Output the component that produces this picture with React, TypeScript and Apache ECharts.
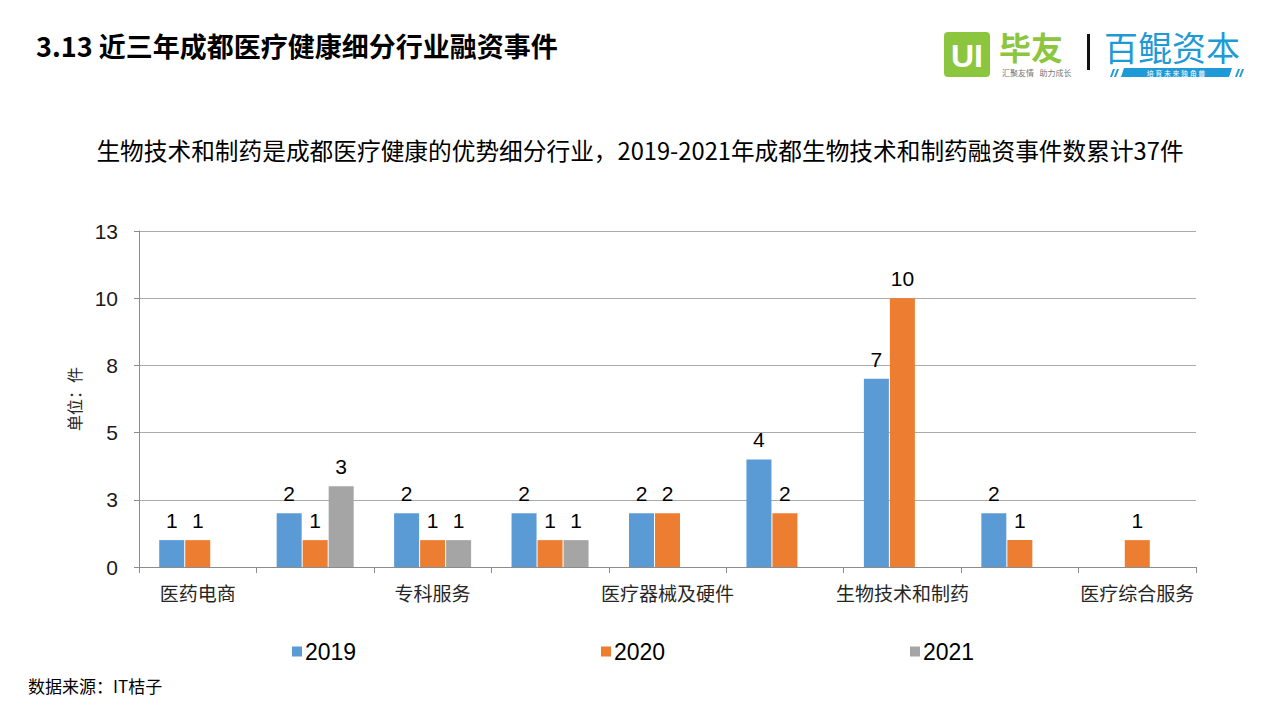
import React, { useEffect, useRef } from "react";
import * as echarts from "echarts";

const categories = [
  "医药电商",
  "医疗信息化",
  "专科服务",
  "数字医疗",
  "医疗器械及硬件",
  "健康管理",
  "生物技术和制药",
  "医疗服务",
  "医疗综合服务",
];
const seriesNames = ["2019", "2020", "2021"];
const values2019 = [1, 2, 2, 2, 2, 4, 7, 2, null];
const values2020 = [1, 1, 1, 1, 2, 2, 10, 1, 1];
const values2021 = [null, 3, 1, 1, null, null, null, null, null];
const colors = ["#5B9BD5", "#ED7D31", "#A5A5A5"];

const title = "3.13 近三年成都医疗健康细分行业融资事件";
const subtitle =
  "生物技术和制药是成都医疗健康的优势细分行业，2019-2021年成都生物技术和制药融资事件数累计37件";
const unitLabel = "单位：件";
const sourceText = "数据来源：IT桔子";

const CJK = '"Noto Sans CJK SC", "Microsoft YaHei", sans-serif';
const ARIAL = '"Liberation Sans", Arial, sans-serif';

export default function App() {
  const ref = useRef<HTMLDivElement>(null);
  useEffect(() => {
    if (!ref.current) return;
    const chart = echarts.init(ref.current, null, { renderer: "svg" });
    const allValues = [values2019, values2020, values2021];
    const legendLefts = [287, 596, 905];
    chart.setOption({
      animation: false,
      backgroundColor: "#ffffff",
      color: colors,
      textStyle: { fontFamily: CJK },
      grid: { left: 139, right: 84, top: 231, bottom: 153, containLabel: false },
      legend: seriesNames.map((n, i) => ({
        data: [n],
        left: legendLefts[i],
        top: 635,
        icon: "rect",
        itemWidth: 10,
        itemHeight: 10,
        itemGap: 0,
        textStyle: { fontSize: 23, color: "#000", fontFamily: ARIAL, padding: [0, 0, 0, -2] },
      })),
      xAxis: {
        type: "category",
        data: categories,
        axisLine: { lineStyle: { color: "#8C8C8C", width: 1 } },
        axisTick: { show: true, interval: 0, alignWithLabel: false, length: 6, lineStyle: { color: "#8C8C8C" } },
        axisLabel: { interval: 1, fontSize: 19, color: "#262626", margin: 16, fontFamily: CJK },
        splitLine: { show: false },
      },
      yAxis: {
        type: "value",
        min: 0,
        max: 12.5,
        interval: 2.5,
        name: unitLabel,
        nameLocation: "middle",
        nameRotate: 90,
        nameGap: 57,
        nameTextStyle: { fontSize: 16, color: "#262626", fontFamily: CJK },
        axisLine: { show: true, lineStyle: { color: "#8C8C8C" } },
        axisTick: { show: true, length: 5, lineStyle: { color: "#8C8C8C" } },
        axisLabel: {
          fontSize: 21,
          color: "#1a1a1a",
          margin: 21,
          fontFamily: ARIAL,
          formatter: (v: number) => String(Math.round(v)),
        },
        splitLine: { show: true, lineStyle: { color: "#ABABAB", width: 1 } },
      },
      series: seriesNames.map((n, i) => ({
        name: n,
        type: "bar",
        data: allValues[i],
        barWidth: 25,
        barGap: "4%",
        itemStyle: { color: colors[i] },
        label: {
          show: true,
          position: "top",
          distance: 9,
          fontSize: 21,
          color: "#000",
          fontFamily: ARIAL,
        },
      })),
      graphic: [
        {
          type: "text",
          x: 36,
          y: 45,
          style: {
            text: title,
            fontSize: 27,
            fontWeight: "bold",
            fill: "#000",
            fontFamily: CJK,
            verticalAlign: "middle",
          },
        },
        {
          type: "text",
          x: 640,
          y: 150,
          style: {
            text: subtitle,
            fontSize: 23.7,
            fill: "#000",
            fontFamily: CJK,
            align: "center",
            verticalAlign: "middle",
          },
        },
        {
          type: "text",
          left: 28,
          top: 677,
          style: { text: sourceText, fontSize: 17, fill: "#000", fontFamily: CJK },
        },
        // 毕友 logo
        {
          type: "rect",
          shape: { x: 944, y: 32, width: 46, height: 45, r: 4 },
          style: { fill: "#8CC63F" },
        },
        {
          type: "text",
          x: 967,
          y: 56,
          style: {
            text: "UI",
            fontSize: 32,
            fontWeight: "bold",
            fill: "#fff",
            fontFamily: ARIAL,
            align: "center",
            verticalAlign: "middle",
          },
        },
        {
          type: "text",
          x: 999,
          y: 46,
          style: {
            text: "毕友",
            fontSize: 32,
            fontWeight: "bold",
            fill: "#8CC63F",
            fontFamily: CJK,
            verticalAlign: "middle",
            lineHeight: 32,
          },
        },
        {
          type: "text",
          x: 1002,
          y: 72,
          style: {
            text: "汇聚友情   助力成长",
            fontSize: 8,
            fill: "#777",
            fontFamily: CJK,
            verticalAlign: "middle",
            lineHeight: 8,
          },
        },
        {
          type: "rect",
          shape: { x: 1087, y: 34, width: 3, height: 36 },
          style: { fill: "#111" },
        },
        // 百鲲资本 logo
        {
          type: "text",
          x: 1104,
          y: 46,
          style: {
            text: "百鲲资本",
            fontSize: 34,
            fill: "#1E9AD6",
            fontFamily: CJK,
            verticalAlign: "middle",
            lineHeight: 34,
          },
        },
        {
          type: "polygon",
          shape: { points: [[1124, 68], [1232, 68], [1229, 77], [1121, 77]] },
          style: { fill: "#1E9AD6" },
        },
        {
          type: "text",
          x: 1176,
          y: 73,
          style: {
            text: "培 育 未 来 独 角 兽",
            fontSize: 7,
            fill: "#fff",
            fontFamily: CJK,
            align: "center",
            verticalAlign: "middle",
            lineHeight: 7,
          },
        },
        {
          type: "polygon",
          shape: { points: [[1110, 77], [1113, 69], [1115, 69], [1112, 77]] },
          style: { fill: "#1E9AD6" },
        },
        {
          type: "polygon",
          shape: { points: [[1114, 77], [1117, 69], [1119, 69], [1116, 77]] },
          style: { fill: "#1E9AD6" },
        },
        {
          type: "polygon",
          shape: { points: [[1235, 77], [1238, 69], [1240, 69], [1237, 77]] },
          style: { fill: "#1E9AD6" },
        },
        {
          type: "polygon",
          shape: { points: [[1239, 77], [1242, 69], [1244, 69], [1241, 77]] },
          style: { fill: "#1E9AD6" },
        },
      ],
    });
    return () => chart.dispose();
  }, []);
  return <div ref={ref} style={{ width: 1280, height: 720, position: "absolute", left: 0, top: 0 }} />;
}
